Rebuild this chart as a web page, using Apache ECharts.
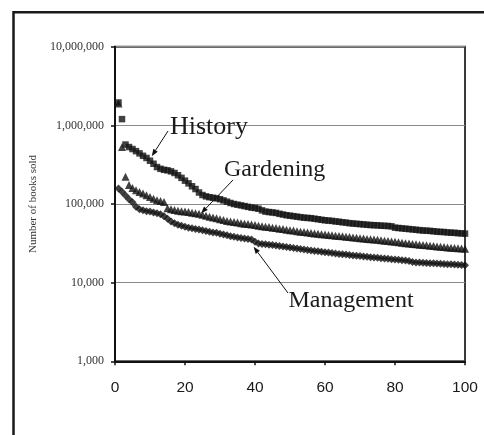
<!DOCTYPE html>
<html><head><meta charset="utf-8">
<script src="https://cdn.jsdelivr.net/npm/echarts@6/dist/echarts.min.js"></script>
<style>html,body{margin:0;padding:0;background:#fff;}#c{width:484px;height:435px;}</style>
</head><body><div id="c"></div>
<script>
// Rank of the book (x axis)
const ranks = [1,2,3,4,5,6,7,8,9,10,11,12,13,14,15,16,17,18,19,20,21,22,23,24,25,26,27,28,29,30,31,32,33,34,35,36,37,38,39,40,41,42,43,44,45,46,47,48,49,50,51,52,53,54,55,56,57,58,59,60,61,62,63,64,65,66,67,68,69,70,71,72,73,74,75,76,77,78,79,80,81,82,83,84,85,86,87,88,89,90,91,92,93,94,95,96,97,98,99,100];

const history = [1950000,1200000,570000,530000,500000,470000,440000,410000,385000,355000,
325000,295000,280000,272000,268000,260000,248000,232000,215000,198000,
183000,168000,155000,140000,130000,125000,122000,120000,118000,115000,
111000,107000,103000,100000,98000,96000,94000,92000,90000,89000,
87000,83000,80000,79000,78000,77000,75000,73500,72000,71000,
70000,69000,68000,67000,66500,66000,65000,64000,63000,62000,
61500,61000,60000,59500,58500,58000,57000,56500,56000,55500,
55000,54500,54000,53800,53500,53000,52800,52500,52000,50000,
49500,49000,48500,48000,47500,47000,46500,46000,45800,45500,
45000,44500,44200,44000,43500,43200,43000,42600,42300,42000];

const gardening = [1900000,530000,222000,175000,160000,150000,142000,136000,129000,123000,
117000,112000,109000,106000,88000,86000,84000,82000,81000,80000,
79000,77500,76000,75000,73000,71000,69000,67500,66000,64000,
62500,61000,60000,59000,58000,57000,56000,55500,55000,54000,
53000,52000,51500,51000,50000,49500,48500,48000,47000,46500,
46000,45000,44500,44000,43500,42800,42300,41800,41300,40800,
40400,40000,39600,39200,38800,38400,38000,37600,37200,36800,
36400,36000,35600,35300,35000,34600,34200,33800,33400,33000,
32600,32200,31800,31400,31000,30700,30400,30100,29800,29500,
29200,28900,28600,28300,28000,27800,27600,27400,27200,27000];

const management = [158000,143000,128000,115000,105000,92000,86000,83000,81000,80000,
78000,76000,74000,70000,65000,60000,57000,54500,53000,51500,
50000,49000,48000,47500,46500,45500,44500,43500,43000,42000,
41000,40000,39000,38300,37500,37000,36300,35800,35300,33000,
31500,31000,30700,30400,30000,29700,29300,28900,28500,28000,
27600,27200,26800,26400,26000,25600,25300,25000,24700,24400,
24100,23800,23500,23200,23000,22800,22500,22200,22000,21800,
21500,21300,21100,20900,20700,20500,20300,20100,19900,19700,
19500,19300,19100,18900,18300,18100,18000,17900,17800,17700,
17600,17500,17400,17300,17200,17100,17000,16900,16800,16700];

const xTicks = [0,20,40,60,80,100];
const yTickLabels = {1000:'1,000',10000:'10,000',100000:'100,000',1000000:'1,000,000',10000000:'10,000,000'};
const seriesNames = ['Gardening','Management','History'];
const yTitle = 'Number of books sold';
// annotation texts and the (rank, value) each arrow points at
const annHistory = {text:'History', target:[10.5, 406000]};
const annGardening = {text:'Gardening', target:[24.6, 76000]};
const annManagement = {text:'Management', target:[39.6, 28600]};

const chart = echarts.init(document.getElementById('c'), null, {renderer:'canvas'});
const pairs = arr => ranks.map((r,i)=>[r, arr[i]]);
const serif = '"Liberation Serif","Times New Roman",serif';
const sans = '"Liberation Sans",Arial,sans-serif';

chart.setOption({
  animation:false,
  backgroundColor:'#fff',
  grid:{left:115,right:19,top:46.7,bottom:73.7,containLabel:false,outerBoundsMode:'none',
        show:true,borderColor:'#3a3a3a',borderWidth:2,backgroundColor:'transparent'},
  xAxis:{type:'value',min:0,max:100,interval:20,
    axisLine:{show:true,onZero:false,lineStyle:{color:'#111',width:2}},
    axisTick:{show:true,inside:false,length:4,lineStyle:{color:'#111',width:1.5}},
    axisLabel:{color:'#1a1a1a',fontFamily:sans,fontSize:15.5,margin:18,
      formatter:v=> xTicks.includes(v)? String(v):''},
    splitLine:{show:false}},
  yAxis:{type:'log',logBase:10,min:1000,max:10000000,
    name:yTitle,nameLocation:'middle',nameGap:61,
    nameTextStyle:{fontFamily:serif,fontSize:11,color:'#333'},
    axisLine:{show:true,onZero:false,lineStyle:{color:'#111',width:2}},
    axisTick:{show:true,inside:false,length:4,lineStyle:{color:'#111',width:1.5}},
    minorTick:{show:false},
    axisLabel:{color:'#333',fontFamily:serif,fontSize:12,margin:11,
      formatter:v=> yTickLabels[Math.round(v)] || ''},
    splitLine:{show:true,lineStyle:{color:'#8a8a8a',width:1.2}}},
  series:[
    {name:seriesNames[0],type:'scatter',data:pairs(gardening),symbol:'triangle',symbolSize:8,
      itemStyle:{color:'#111'},z:2},
    {name:seriesNames[1],type:'scatter',data:pairs(management),symbol:'diamond',symbolSize:8,
      itemStyle:{color:'#111'},z:2},
    {name:seriesNames[2],type:'scatter',data:pairs(history),symbol:'rect',symbolSize:6.5,
      itemStyle:{color:'#111'},z:3}
  ]
});

function arrow(tail, tipData){
  const tip = chart.convertToPixel({gridIndex:0}, tipData);
  const dx = tip[0]-tail[0], dy = tip[1]-tail[1];
  const L = Math.hypot(dx,dy), ux = dx/L, uy = dy/L;
  const hl = 7, hw = 2.6;
  const bx = tip[0]-ux*hl, by = tip[1]-uy*hl;
  return [
    {type:'line',shape:{x1:tail[0],y1:tail[1],x2:bx,y2:by},style:{stroke:'#111',lineWidth:1},z:10},
    {type:'polygon',shape:{points:[[tip[0],tip[1]],[bx-uy*hw,by+ux*hw],[bx+uy*hw,by-ux*hw]]},style:{fill:'#111'},z:10}
  ];
}
function label(t, x, y, size){
  return {type:'text',x:x,y:y,z:10,style:{text:t,font:size+'px '+serif,fill:'#1a1a1a',align:'left',verticalAlign:'middle'}};
}

chart.setOption({graphic:[
  {type:'rect',shape:{x:13.5,y:12.3,width:1000,height:1000},style:{fill:'none',stroke:'#1a1a1a',lineWidth:2.5},z:1},
  label(annHistory.text,170,127,26),
  label(annGardening.text,224,169.5,24),
  label(annManagement.text,288.5,300.7,24),
  ...arrow([168,131], annHistory.target),
  ...arrow([233,180], annGardening.target),
  ...arrow([288,293], annManagement.target)
]});
</script></body></html>
